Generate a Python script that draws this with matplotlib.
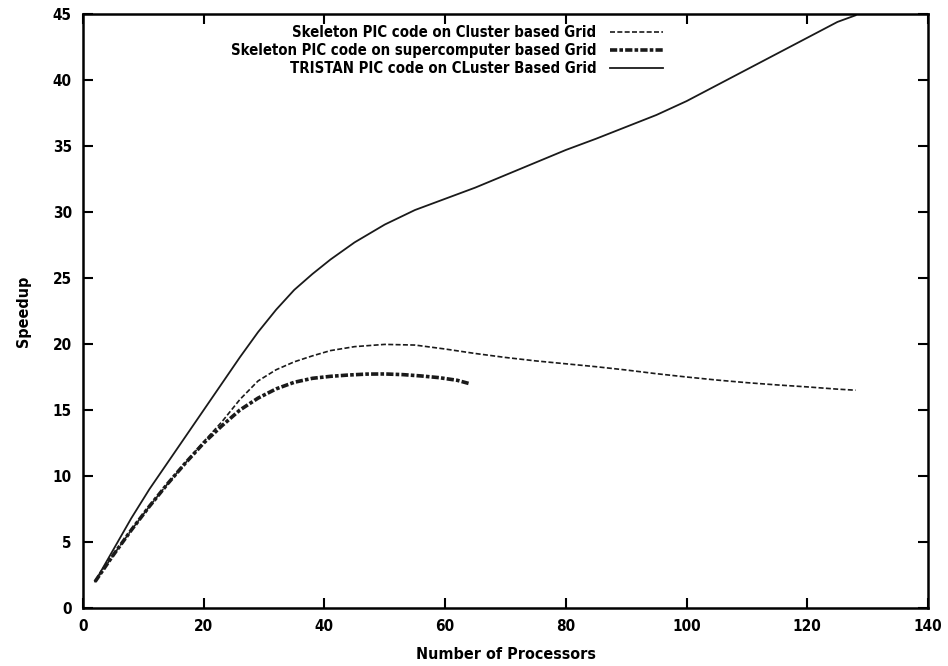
import matplotlib
matplotlib.use("Agg")
import matplotlib.pyplot as plt

# ---- data ----
tristan_x = [2, 5, 8, 11, 14, 17, 20, 23, 26, 29, 32, 35, 38, 41, 45, 50, 55, 60, 65,
             70, 75, 80, 85, 90, 95, 100, 105, 110, 115, 120, 125, 128]
tristan_y = [2.0, 4.4, 6.8, 9.0, 11.0, 13.0, 15.0, 17.0, 19.0, 20.9, 22.6, 24.1, 25.3,
             26.4, 27.7, 29.05, 30.15, 31.0, 31.85, 32.8, 33.75, 34.7, 35.55, 36.45,
             37.35, 38.4, 39.6, 40.8, 42.0, 43.2, 44.4, 44.9]

cluster_x = [2, 5, 8, 11, 14, 17, 20, 23, 26, 29, 32, 35, 38, 41, 45, 50, 55, 60, 65,
             70, 75, 80, 85, 90, 95, 100, 105, 110, 115, 120, 125, 128]
cluster_y = [2.0, 4.0, 5.9, 7.7, 9.4, 11.0, 12.6, 14.1, 15.8, 17.2, 18.05, 18.65, 19.1,
             19.5, 19.8, 19.97, 19.92, 19.62, 19.28, 18.98, 18.72, 18.5, 18.28, 18.03,
             17.75, 17.5, 17.27, 17.07, 16.9, 16.75, 16.58, 16.5]

super_x = [2, 5, 8, 11, 14, 17, 20, 23, 26, 29, 32, 35, 38, 41, 44, 47, 50, 53, 56,
           59, 62, 64]
super_y = [2.0, 4.0, 5.9, 7.7, 9.4, 11.0, 12.5, 13.8, 15.0, 15.9, 16.6, 17.1, 17.4,
           17.55, 17.65, 17.72, 17.73, 17.68, 17.58, 17.45, 17.25, 17.0]

labels = ["Skeleton PIC code on Cluster based Grid",
          "Skeleton PIC code on supercomputer based Grid",
          "TRISTAN PIC code on CLuster Based Grid"]
xticks = [0, 20, 40, 60, 80, 100, 120, 140]
yticks = [0, 5, 10, 15, 20, 25, 30, 35, 40, 45]
xlabel = "Number of Processors"
ylabel = "Speedup"

plt.rcParams['font.family'] = ['DejaVu Sans']
plt.rcParams['font.weight'] = 'bold'
plt.rcParams['font.stretch'] = 'condensed'

fig = plt.figure(figsize=(9.48, 6.66), dpi=100)
ax = fig.add_axes([83/948, 1-608/666, (928-83)/948, (608-14)/666])

col = '#1a1a1a'
ax.plot(cluster_x, cluster_y, color=col, lw=1.2, dashes=(3.0, 1.4),
        dash_capstyle='butt', label=labels[0])
ax.plot(super_x, super_y, color=col, lw=2.6, dashes=(2.0, 0.6, 1.0, 0.6),
        dash_capstyle='butt', label=labels[1])
ax.plot(tristan_x, tristan_y, color=col, lw=1.3, label=labels[2])

ax.set_xlim(0, 140)
ax.set_ylim(0, 45)
ax.set_xticks(xticks)
ax.set_yticks(yticks)
ax.tick_params(direction='in', length=7, width=1.5, top=True, right=True,
               labelsize=11, pad=8, colors='black')
for s in ax.spines.values():
    s.set_linewidth(1.8)

ax.set_xlabel(xlabel, fontsize=11.5, fontweight='bold', labelpad=9)
ax.set_ylabel(ylabel, fontsize=11.5, fontweight='bold', labelpad=16)

leg = ax.legend(loc='upper right', bbox_to_anchor=((663-83)/845, 1-(25-14)/594),
                frameon=False, markerfirst=False, fontsize=10.7, handlelength=3.6,
                handletextpad=0.9, labelspacing=0.2, borderpad=0, borderaxespad=0)

fig.savefig("out.png", dpi=100)
